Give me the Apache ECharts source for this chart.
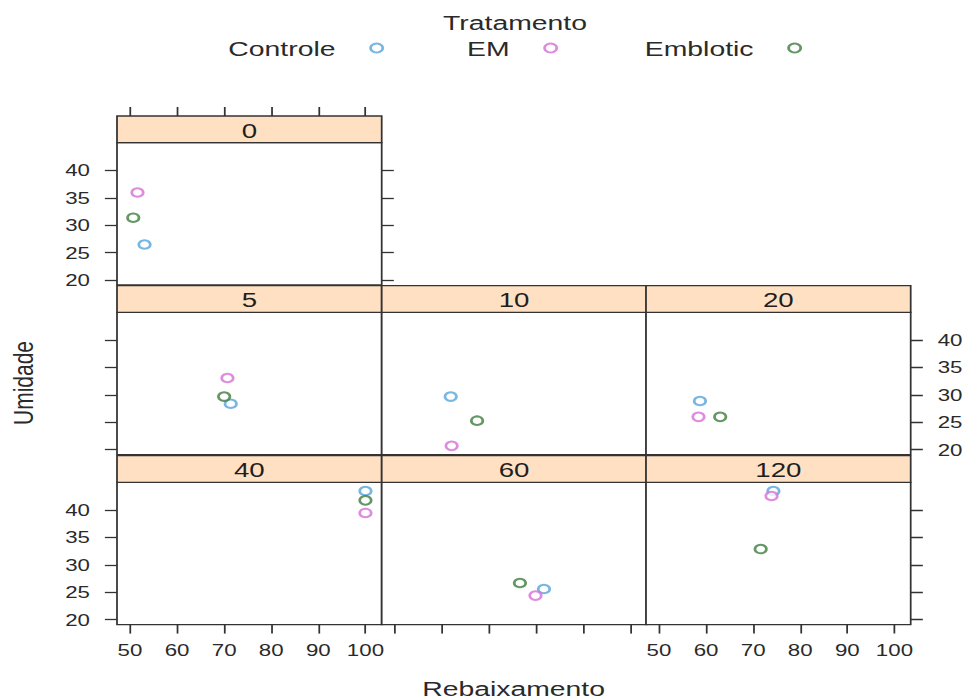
<!DOCTYPE html>
<html><head><meta charset="utf-8">
<script src="https://cdn.jsdelivr.net/npm/echarts@6/dist/echarts.min.js"></script>
<style>
html,body{margin:0;padding:0;background:#fff;overflow:hidden;}
#main{width:716.3px;height:700px;transform:scaleX(1.35);transform-origin:0 0;}
</style>
</head><body><div id="main"></div>
<script>
// ---- data ----
const panels = ['0', '5', '10', '20', '40', '60', '120'];
const treatments = ['Controle', 'EM', 'Emblotic'];
const controleX = [53.1, 71.4, 61.9, 58.7, 100, 81.7, 74.3];
const controleY = [26.5, 28.4, 29.7, 28.9, 43.5, 25.6, 43.5];
const emX = [51.6, 70.7, 62.1, 58.4, 100, 79.9, 73.9];
const emY = [36.0, 33.1, 20.7, 26.0, 39.5, 24.4, 42.6];
const emblioticX = [50.7, 70.0, 67.5, 63.0, 100, 76.6, 71.6];
const emblioticY = [31.4, 29.7, 25.3, 26.0, 41.8, 26.7, 32.9];
const xTicks = [50, 60, 70, 80, 90, 100];
const yTicks = [20, 25, 30, 35, 40];
const legendTitle = 'Tratamento';
const xTitle = 'Rebaixamento';
const yTitle = 'Umidade';

// ---- layout / style ----
const S = 1.35;                      // horizontal stretch of the reference
const W = 967 / S;
const FF = "'Liberation Sans', Arial, Helvetica, sans-serif";
const TXT = '#2a2a2a';
const LINE = '#333333';
const colors = { 'Controle': '#55a5d9', 'EM': '#d66fd6', 'Emblotic': '#3f7d3f' };
const colLeft = [117 / S, 381.7 / S, 646 / S];
const panelW = 264.7 / S;
const dataTop = [142.7, 312.3, 482.3];
const panelH = 142.3;
const stripH = 26.7;
const pos = [[0, 0], [1, 0], [1, 1], [1, 2], [2, 0], [2, 1], [2, 2]];

const seriesXY = {
  'Controle': [controleX, controleY],
  'EM': [emX, emY],
  'Emblotic': [emblioticX, emblioticY]
};

// lattice-like limits: data range padded 7% each side
const allX = controleX.concat(emX, emblioticX);
const allY = controleY.concat(emY, emblioticY);
function lim(a) {
  const mn = Math.min.apply(null, a), mx = Math.max.apply(null, a), d = mx - mn;
  return [mn - 0.07 * d, mx + 0.07 * d];
}
const [xMin, xMax] = lim(allX);
const [yMin, yMax] = lim(allY);

const tickLine = { color: LINE, width: 1.3 };
const lab = { color: TXT, fontSize: 16.5, fontFamily: FF };

function mkX(gi, position, showTick, showLabel, offset) {
  return {
    type: 'value', gridIndex: gi, position: position, offset: offset || 0,
    min: xMin, max: xMax, show: showTick || showLabel,
    axisLine: { show: false }, splitLine: { show: false },
    axisTick: { show: showTick, customValues: xTicks, length: 9, inside: false, lineStyle: tickLine },
    axisLabel: Object.assign({ show: showLabel, customValues: xTicks, margin: 17 }, lab)
  };
}
function mkY(gi, position, showTick, showLabel) {
  return {
    type: 'value', gridIndex: gi, position: position,
    min: yMin, max: yMax, show: showTick || showLabel,
    axisLine: { show: false }, splitLine: { show: false },
    axisTick: { show: showTick, customValues: yTicks, length: 9, inside: false, lineStyle: tickLine },
    axisLabel: Object.assign({ show: showLabel, customValues: yTicks, margin: 20 }, lab)
  };
}

const grids = [], xAxes = [], yAxes = [], graphics = [];
panels.forEach(function (p, i) {
  const r = pos[i][0], c = pos[i][1];
  grids.push({
    left: colLeft[c], top: dataTop[r], width: panelW, height: panelH,
    show: true, borderColor: LINE, borderWidth: 1.3, backgroundColor: '#ffffff',
    containLabel: false, outerBoundsMode: 'none'
  });
  const bottom = (r === 2);
  xAxes.push(mkX(i, 'bottom', bottom, bottom && c !== 1));
  const left = (c === 0);
  yAxes.push(mkY(i, 'left', left, left && r !== 1));
  graphics.push({
    type: 'rect', z: 10,
    shape: { x: colLeft[c], y: dataTop[r] - stripH, width: panelW, height: stripH },
    style: { fill: '#ffe0c2', stroke: LINE, lineWidth: 1.3 }
  });
  graphics.push({
    type: 'text', z: 11, x: colLeft[c] + panelW / 2, y: dataTop[r] - stripH / 2 + 1,
    style: { text: p, fill: '#1e1e1e', fontSize: 20.5, fontFamily: FF,
      align: 'center', verticalAlign: 'middle', textAlign: 'center', textVerticalAlign: 'middle' }
  });
});
// extra axes: top ticks on panel 0 (above its strip), right-side y axes
xAxes.push(mkX(0, 'top', true, false, stripH));
yAxes.push(mkY(0, 'right', true, false));   // panel 0
yAxes.push(mkY(3, 'right', true, true));    // panel 20
yAxes.push(mkY(6, 'right', true, false));   // panel 120

// titles
graphics.push({
  type: 'text', x: 381.5, y: 22,
  style: { text: legendTitle, fill: TXT, fontSize: 21, fontFamily: FF,
    align: 'center', verticalAlign: 'middle', textAlign: 'center', textVerticalAlign: 'middle' }
});
graphics.push({
  type: 'text', x: 380.4, y: 688,
  style: { text: xTitle, fill: TXT, fontSize: 21, fontFamily: FF,
    align: 'center', verticalAlign: 'middle', textAlign: 'center', textVerticalAlign: 'middle' }
});
graphics.push({
  type: 'text', x: 17, y: 383, rotation: Math.PI / 2,
  style: { text: yTitle, fill: TXT, fontSize: 21, fontFamily: FF,
    align: 'center', verticalAlign: 'middle', textAlign: 'center', textVerticalAlign: 'middle' }
});

const series = [];
treatments.forEach(function (t) {
  const xy = seriesXY[t];
  panels.forEach(function (p, i) {
    series.push({
      type: 'scatter', name: t, xAxisIndex: i, yAxisIndex: i,
      data: [[xy[0][i], xy[1][i]]],
      symbol: 'emptyCircle', symbolSize: 8.5, silent: true,
      itemStyle: { color: colors[t], borderColor: colors[t], borderWidth: 1.4 },
      emphasis: { disabled: true }
    });
  });
});

const legendIconCenters = [378 / S, 552 / S, 796 / S];
const legends = treatments.map(function (t, k) {
  return {
    data: [{ name: t, icon: 'emptyCircle',
      itemStyle: { color: colors[t], borderColor: colors[t], borderWidth: 1.4 } }],
    orient: 'horizontal', align: 'right',
    right: W - (legendIconCenters[k] + 4.5), top: 37.5,
    itemWidth: 9, itemHeight: 9, padding: 0, selectedMode: false,
    textStyle: { fontSize: 21, color: TXT, fontFamily: FF, padding: [0, 21, 0, 0] }
  };
});

const chart = echarts.init(document.getElementById('main'), null, { renderer: 'svg', width: W, height: 700 });
chart.setOption({
  backgroundColor: '#ffffff',
  animation: false,
  tooltip: { show: false },
  legend: legends,
  grid: grids,
  xAxis: xAxes,
  yAxis: yAxes,
  graphic: graphics,
  series: series
});
</script>
</body></html>
